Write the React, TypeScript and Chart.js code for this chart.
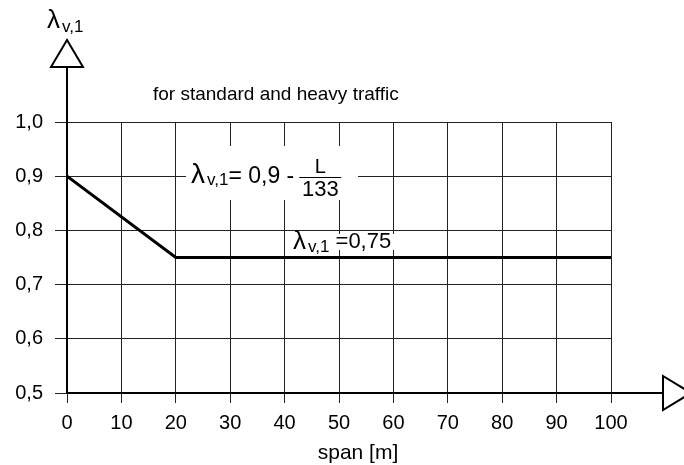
import React, { useEffect, useRef } from "react";
import { Chart, registerables } from "chart.js";

Chart.register(...registerables);

const spanValues = [0, 20, 100];
const lambdaValues = [0.9, 0.75, 0.75];
const xMin = 0;
const xMax = 100;
const xStep = 10;
const yMin = 0.5;
const yMax = 1.0;
const yStep = 0.1;
const titleText = "for standard and heavy traffic";
const xTitle = "span [m]";

const FONT = "'Liberation Sans', Arial, sans-serif";

function drawSubscripted(
  ctx: CanvasRenderingContext2D,
  x: number,
  y: number,
  bigSize: number,
  subSize: number,
  subDrop: number
): number {
  ctx.font = `${bigSize}px ${FONT}`;
  ctx.fillText("λ", x, y);
  let cx = x + ctx.measureText("λ").width + 2;
  ctx.font = `${subSize}px ${FONT}`;
  ctx.fillText("v,1", cx, y + subDrop);
  cx += ctx.measureText("v,1").width;
  return cx;
}

const decorations = {
  id: "decorations",
  afterDraw(chart: any) {
    const { ctx, chartArea } = chart;
    const { left, right, top, bottom } = chartArea;
    ctx.save();
    ctx.strokeStyle = "#000";
    ctx.fillStyle = "#000";
    ctx.lineWidth = 2;

    // extended y axis with arrow
    ctx.beginPath();
    ctx.moveTo(left, bottom);
    ctx.lineTo(left, top - 55);
    ctx.stroke();
    ctx.beginPath();
    ctx.moveTo(left, top - 82);
    ctx.lineTo(left - 16, top - 55);
    ctx.lineTo(left + 16, top - 55);
    ctx.closePath();
    ctx.fillStyle = "#fff";
    ctx.fill();
    ctx.stroke();

    // extended x axis with arrow
    ctx.beginPath();
    ctx.moveTo(right, bottom);
    ctx.lineTo(right + 52, bottom);
    ctx.stroke();
    ctx.beginPath();
    ctx.moveTo(right + 52, bottom - 17);
    ctx.lineTo(right + 80, bottom);
    ctx.lineTo(right + 52, bottom + 17);
    ctx.closePath();
    ctx.fill();
    ctx.stroke();

    ctx.fillStyle = "#000";
    ctx.textBaseline = "alphabetic";
    ctx.textAlign = "left";

    // axis label top
    drawSubscripted(ctx, left - 20, 28, 26, 17, 4);

    // title
    ctx.font = `19px ${FONT}`;
    ctx.fillText(titleText, 153, 100);

    // x title
    ctx.textAlign = "center";
    ctx.font = `21px ${FONT}`;
    ctx.fillText(xTitle, (left + right) / 2 + 19, 459);
    ctx.textAlign = "left";

    // formula with white box
    ctx.fillStyle = "#fff";
    ctx.fillRect(186, 146, 172, 54);
    ctx.fillStyle = "#000";
    let cx = drawSubscripted(ctx, 191, 183, 28, 17, 2);
    ctx.font = `23px ${FONT}`;
    ctx.fillText("= 0,9 -", cx, 183);
    cx += ctx.measureText("= 0,9 -").width + 5;
    ctx.textAlign = "center";
    const fw = 42;
    ctx.font = `20px ${FONT}`;
    ctx.fillText("L", cx + fw / 2, 173);
    ctx.font = `22px ${FONT}`;
    ctx.fillText("133", cx + fw / 2, 196);
    ctx.lineWidth = 1.2;
    ctx.beginPath();
    ctx.moveTo(cx, 177.5);
    ctx.lineTo(cx + fw, 177.5);
    ctx.stroke();
    ctx.textAlign = "left";

    // constant label
    ctx.fillStyle = "#fff";
    ctx.fillRect(292, 234, 108, 16);
    ctx.fillStyle = "#000";
    cx = drawSubscripted(ctx, 293, 249, 26, 17, 3);
    ctx.font = `22px ${FONT}`;
    ctx.fillText(" =0,75", cx, 248);

    ctx.restore();
  },
};

export default function App() {
  const ref = useRef<HTMLCanvasElement | null>(null);
  useEffect(() => {
    if (!ref.current) return;
    const chart = new Chart(ref.current, {
      type: "line",
      data: {
        datasets: [
          {
            data: spanValues.map((x, i) => ({ x, y: lambdaValues[i] })),
            borderColor: "#000",
            borderWidth: 3,
            pointRadius: 0,
            tension: 0,
            fill: false,
          },
        ],
      },
      options: {
        animation: false,
        responsive: false,
        maintainAspectRatio: false,
        layout: { padding: { top: 122, right: 73, left: 0, bottom: 0 } },
        plugins: { legend: { display: false }, tooltip: { enabled: false }, title: { display: false } },
        scales: {
          x: {
            type: "linear",
            min: xMin,
            max: xMax,
            ticks: {
              stepSize: xStep,
              color: "#000",
              font: { family: FONT, size: 20 },
              padding: 8,
              maxRotation: 0,
            },
            grid: { color: "#222", lineWidth: 1, tickLength: 10, tickColor: "#222" },
            border: { display: true, color: "#000", width: 2 },
            afterFit: (s: any) => {
              s.height = 72;
            },
          },
          y: {
            min: yMin,
            max: yMax,
            ticks: {
              stepSize: yStep,
              color: "#000",
              font: { family: FONT, size: 20 },
              padding: 12,
              callback: (v: any) => Number(v).toFixed(1).replace(".", ","),
            },
            grid: { color: "#222", lineWidth: 1, tickLength: 12, tickColor: "#222" },
            border: { display: true, color: "#000", width: 2 },
            afterFit: (s: any) => {
              s.width = 67;
            },
          },
        },
      },
      plugins: [decorations],
    });
    return () => chart.destroy();
  }, []);
  return (
    <div style={{ position: "absolute", left: 0, top: 0, width: 684, height: 465, background: "#fff" }}>
      <canvas ref={ref} width={684} height={465} style={{ display: "block", width: 684, height: 465 }} />
    </div>
  );
}
